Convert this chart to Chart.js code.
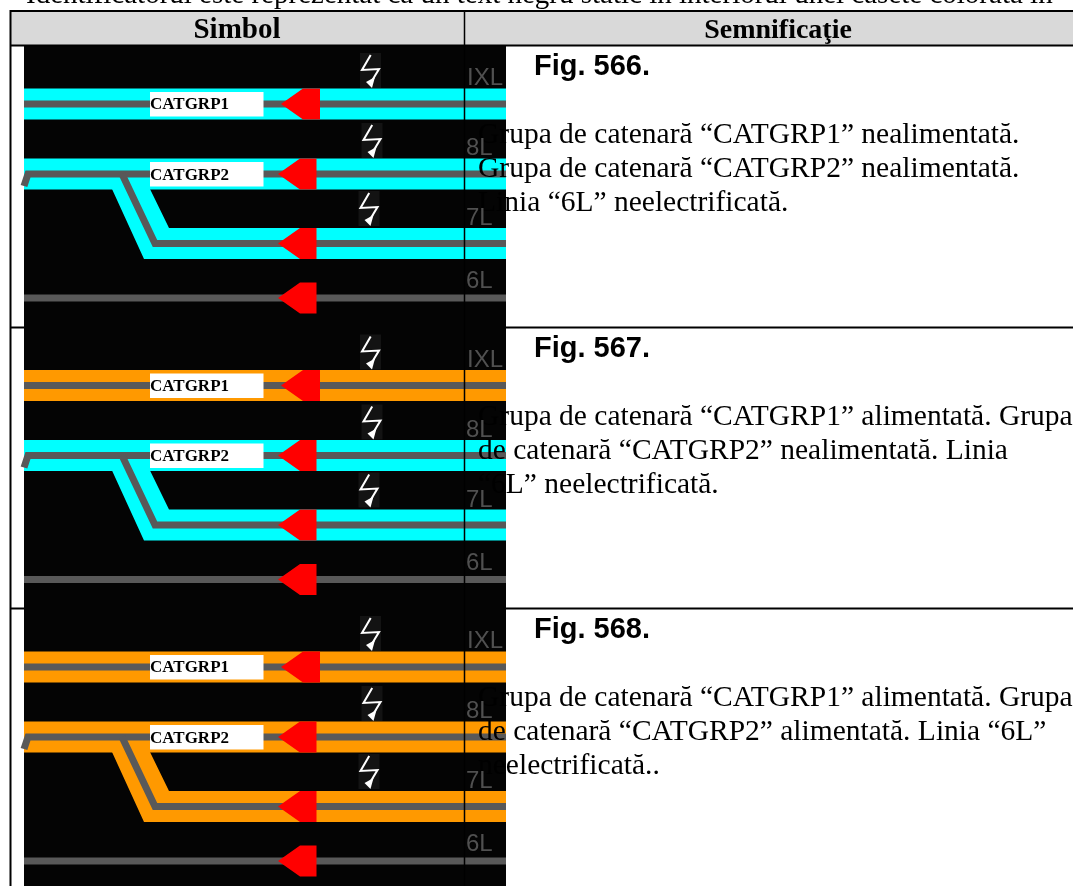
<!DOCTYPE html>
<html><head><meta charset="utf-8">
<style>html,body{margin:0;padding:0;background:#fff;overflow:hidden}canvas{display:block}</style>
<script src="https://cdn.jsdelivr.net/npm/chart.js@4"></script>
</head><body><canvas id="c" width="1073" height="886"></canvas>
<script>
// ---- values (schematic units = table grid units)
const rowOffsets = [0, 281.5, 563];
const rowFigures = ["Fig. 566.", "Fig. 567.", "Fig. 568."];
const rowBandOneFill = ["#00ffff", "#ff9900", "#ff9900"];
const rowBandTwoFill = ["#00ffff", "#00ffff", "#ff9900"];
const rowText = [
  ["Grupa de catenară “CATGRP1” nealimentată.","Grupa de catenară “CATGRP2” nealimentată.","Linia “6L” neelectrificată."],
  ["Grupa de catenară “CATGRP1” alimentată. Grupa","de catenară “CATGRP2” nealimentată. Linia","“6L” neelectrificată."],
  ["Grupa de catenară “CATGRP1” alimentată. Grupa","de catenară “CATGRP2” alimentată. Linia “6L”","neelectrificată.."]
];
const headers = ["Simbol", "Semnificaţie"];
const introLine = "Identificatorul este reprezentat ca un text negru static în interiorul unei casete colorată în";
const bandOne = [[24,88.5],[506,88.5],[506,119.5],[24,119.5]];
const bandTwo = [[24,158.5],[506,158.5],[506,189.5],[24,189.5]];
const bandBranch = [[112,189],[144,259],[506,259],[506,228],[169,228],[150,189]];
const trackOne = [[24,104],[506,104]];
const trackTwo = [[24,186],[28,174],[122,174],[506,174]];
const trackBranch = [[122,174],[155,243.5],[506,243.5]];
const trackFour = [[24,298],[506,298]];
const arrowOne = [[281,104],[303,88.5],[320,88.5],[320,119.5],[303,119.5]];
const arrowTwo = [[278,174],[300,158.5],[316.5,158.5],[316.5,189.5],[300,189.5]];
const arrowThree = [[278,243.5],[300,228],[316.5,228],[316.5,259],[300,259]];
const arrowFour = [[278,298],[300,282.5],[316.5,282.5],[316.5,313.5],[300,313.5]];
const whiteBoxOne = [[150,92],[263.5,92],[263.5,116.5],[150,116.5]];
const whiteBoxTwo = [[150,162],[263.5,162],[263.5,186.5],[150,186.5]];
const boltStroke = [[370.7,55],[362,70],[379,69],[370,84]];
const boltHead = [[366,82],[372,88],[375,77]];
const boltShifts = [[0,0],[1.5,70],[-1.5,138]];
const trackLabels = [["CATGRP1",150,109,84],["CATGRP2",150,179.5,87]];
const lineLabels = [["IXL",467,85],["8L",466,155],["7L",466,225],["6L",466,288]];

// ---- helpers
const pts = (a,dx=0,dy=0)=>a.map(p=>({x:p[0]+dx,y:p[1]+dy}));
const shape = (a,color,dy=0,dx=0)=>({data:pts(a,dx,dy),showLine:true,fill:'shape',backgroundColor:color,borderColor:color,borderWidth:0,pointRadius:0,tension:0});
const line = (a,color,w,dy=0,dx=0)=>({data:pts(a,dx,dy),showLine:true,fill:false,borderColor:color,borderWidth:w,pointRadius:0,tension:0,borderCapStyle:'butt',borderJoinStyle:'miter'});

const layers = [];
layers.push(shape([[11,12],[1073,12],[1073,45],[11,45]],'#d9d9d9'));
layers.push(shape([[24,46],[506,46],[506,886],[24,886]],'#040404'));
rowOffsets.forEach((dy,i)=>{
  boltShifts.forEach(s=>{
    layers.push(shape([[360,53],[381,53],[381,88],[360,88]],'#131313',dy+s[1],s[0]));
    layers.push(line(boltStroke,'#ffffff',2,dy+s[1],s[0]));
    layers.push(shape(boltHead,'#ffffff',dy+s[1],s[0]));
  });
  layers.push(shape(bandOne,rowBandOneFill[i],dy));
  layers.push(shape(bandTwo,rowBandTwoFill[i],dy));
  layers.push(shape(bandBranch,rowBandTwoFill[i],dy));
  layers.push(line(trackOne,'#595959',7,dy));
  layers.push(line(trackTwo,'#595959',7,dy));
  layers.push(line(trackBranch,'#595959',7,dy));
  layers.push(line(trackFour,'#595959',7,dy));
  layers.push(shape(whiteBoxOne,'#ffffff',dy));
  layers.push(shape(whiteBoxTwo,'#ffffff',dy));
  [arrowOne,arrowTwo,arrowThree,arrowFour].forEach(a=>layers.push(shape(a,'#ff0000',dy)));
});
// table rules
const rule=(a)=>line(a,'#000000',2);
layers.push(rule([[10,11],[1073,11]]));
layers.push(rule([[10,45.5],[1073,45.5]]));
layers.push(rule([[10.5,10],[10.5,886]]));
layers.push(line([[464.5,10],[464.5,886]],'#000000',1.5));
layers.push(rule([[10,327.5],[24,327.5]]));
layers.push(rule([[506,327.5],[1073,327.5]]));
layers.push(rule([[10,608.5],[24,608.5]]));
layers.push(rule([[506,608.5],[1073,608.5]]));
// Chart.js paints the first dataset last
const datasets = layers.slice().reverse();

const textPlugin = {id:'tableText', afterDatasetsDraw(chart){
  const {ctx,scales:{x,y}}=chart;
  const put=(s,px,py,font,color,align='left',w)=>{
    ctx.font=font;ctx.fillStyle=color;ctx.textAlign=align;ctx.textBaseline='alphabetic';
    if(w) ctx.fillText(s,x.getPixelForValue(px),y.getPixelForValue(py),w);
    else ctx.fillText(s,x.getPixelForValue(px),y.getPixelForValue(py));
  };
  ctx.save();
  put(introLine,26,3,'29px "Liberation Serif"','#000','left',1038);
  put(headers[0],237,38,'bold 29px "Liberation Serif"','#000','center');
  put(headers[1],778,38,'bold 28px "Liberation Serif"','#000','center');
  rowOffsets.forEach((dy,i)=>{
    put(rowFigures[i],534,75+dy,'bold 29px "Liberation Sans"','#000');
    rowText[i].forEach((t,k)=>{ put(t,478,143+34*k+dy,'29.5px "Liberation Serif"','#000'); });
    trackLabels.forEach(t=>put(t[0],t[1],t[2]+dy,'bold 17px "Liberation Serif"','#000','left',t[3]));
    lineLabels.forEach(t=>put(t[0],t[1],t[2]+dy,'24px "Liberation Sans"','#505050'));
  });
  ctx.restore();
}};

new Chart(document.getElementById('c'),{
  type:'scatter',
  data:{datasets},
  options:{responsive:false,animation:false,
    layout:{padding:0},
    plugins:{legend:{display:false},tooltip:{enabled:false},title:{display:false}},
    scales:{
      x:{type:'linear',min:0,max:1073,display:false},
      y:{type:'linear',min:0,max:886,reverse:true,display:false}
    }},
  plugins:[textPlugin]
});
</script></body></html>
